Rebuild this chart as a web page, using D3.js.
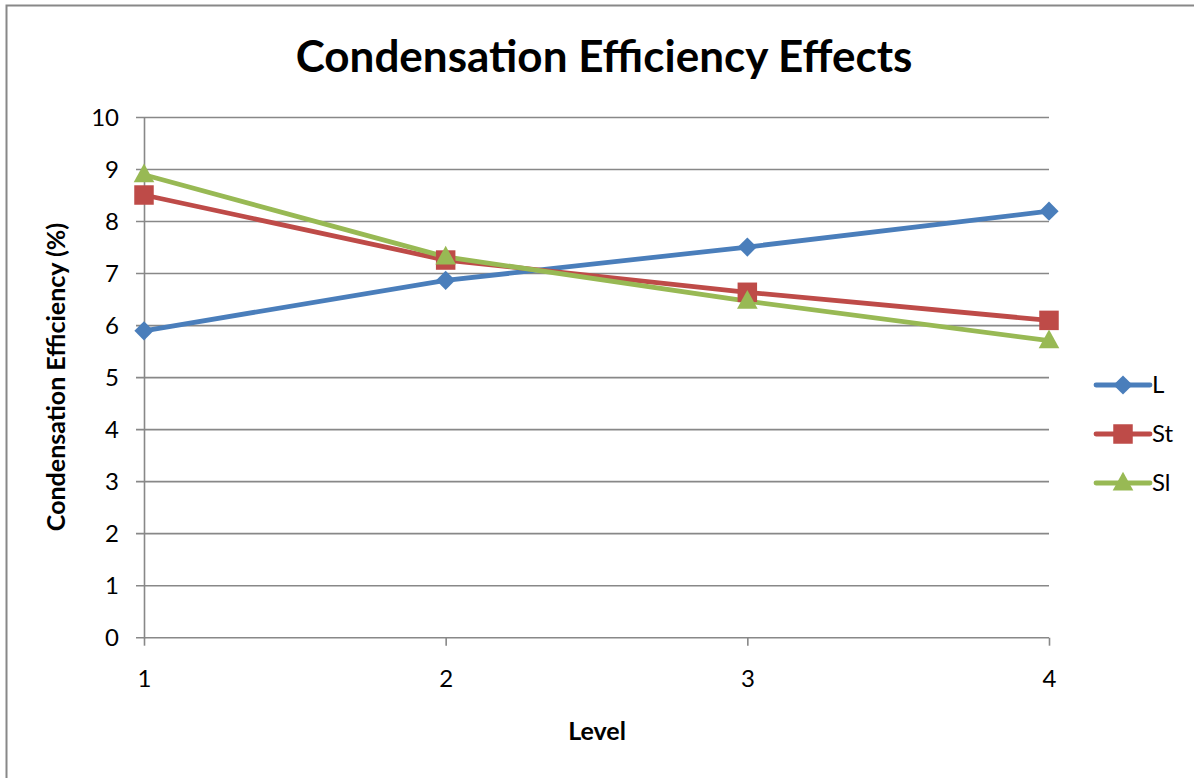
<!DOCTYPE html>
<html>
<head>
<meta charset="utf-8">
<script src="https://cdn.jsdelivr.net/npm/d3@7"></script>
<style>
  html, body { margin: 0; padding: 0; background: #fff; }
  svg { display: block; }
  text { font-family: Lato, "Open Sans", sans-serif; fill: #000; }
</style>
</head>
<body>
<svg id="chart" width="1194" height="778"></svg>
<script>
// Levels along the x axis
const levels = [1, 2, 3, 4];
// Condensation efficiency (%) per series
const seriesL  = [5.9, 6.87, 7.51, 8.2];
const seriesSt = [8.51, 7.26, 6.64, 6.1];
const seriesSl = [8.9, 7.32, 6.47, 5.71];
const seriesNames = ["L", "St", "Sl"];
const yTicks = [0, 1, 2, 3, 4, 5, 6, 7, 8, 9, 10];

const colors = { L: "#4a7ebb", St: "#be4b48", Sl: "#98b954" };

// square diamond (rotated square) marker
const squareDiamond = {
  draw(context, size) {
    const r = Math.sqrt(size / 2);
    context.moveTo(0, -r);
    context.lineTo(r, 0);
    context.lineTo(0, r);
    context.lineTo(-r, 0);
    context.closePath();
  }
};
// wide triangle marker
const wideTriangle = {
  draw(context, size) {
    const h = Math.sqrt(size * 0.95);
    const w = h * 1.1;
    context.moveTo(0, -h * 0.6);
    context.lineTo(w / 2, h * 0.4);
    context.lineTo(-w / 2, h * 0.4);
    context.closePath();
  }
};
const symbols = { L: squareDiamond, St: d3.symbolSquare, Sl: wideTriangle };
const symSize = { L: 185, St: 380, Sl: 370 };

const series = [
  { name: "L", values: seriesL },
  { name: "St", values: seriesSt },
  { name: "Sl", values: seriesSl }
];

const svg = d3.select("#chart");

// outer chart frame
svg.append("rect")
  .attr("x", 6.5).attr("y", 5.5)
  .attr("width", 1200).attr("height", 800)
  .attr("fill", "none").attr("stroke", "#888").attr("stroke-width", 2);

const x = d3.scaleLinear().domain([1, 4]).range([144, 1049]);
const y = d3.scaleLinear().domain([0, 10]).range([637.7, 117.5]);

// horizontal gridlines
svg.append("g")
  .selectAll("line")
  .data(yTicks)
  .join("line")
  .attr("x1", 136).attr("x2", x(4))
  .attr("y1", d => y(d)).attr("y2", d => y(d))
  .attr("stroke", "#888").attr("stroke-width", 1.6);

// y axis
const yAxis = d3.axisLeft(y).tickValues(yTicks).tickSize(0).tickPadding(25);
const gy = svg.append("g").attr("transform", `translate(${x(1)},0)`).call(yAxis);
gy.select(".domain").attr("stroke", "#888").attr("stroke-width", 1.6);
gy.selectAll("text").attr("font-size", 24).style("font-family", "Lato, 'Open Sans', sans-serif");

// x axis
const xAxis = d3.axisBottom(x).tickValues(levels).tickSize(8).tickPadding(24).tickFormat(d3.format("d"));
const gx = svg.append("g").attr("transform", `translate(0,${y(0)})`).call(xAxis);
gx.select(".domain").remove();
gx.selectAll("line").attr("stroke", "#888").attr("stroke-width", 1.6);
gx.selectAll("text").attr("font-size", 24).style("font-family", "Lato, 'Open Sans', sans-serif");

// lines
const line = d3.line().x((d, i) => x(levels[i])).y(d => y(d));
svg.append("g")
  .selectAll("path")
  .data(series)
  .join("path")
  .attr("d", d => line(d.values))
  .attr("fill", "none")
  .attr("stroke", d => colors[d.name])
  .attr("stroke-width", 4.8)
  .attr("stroke-linejoin", "round")
  .attr("stroke-linecap", "round");

// markers
series.forEach(s => {
  svg.append("g")
    .selectAll("path")
    .data(s.values)
    .join("path")
    .attr("d", d3.symbol().type(symbols[s.name]).size(symSize[s.name]))
    .attr("transform", (d, i) => `translate(${x(levels[i])},${y(d)})`)
    .attr("fill", colors[s.name]);
});

// title
svg.append("text")
  .attr("x", 604).attr("y", 72)
  .attr("text-anchor", "middle")
  .attr("font-size", 44).attr("font-weight", "bold")
  .text("Condensation Efficiency Effects");

// axis titles
svg.append("text")
  .attr("transform", "translate(65,377) rotate(-90)")
  .attr("text-anchor", "middle")
  .attr("font-size", 25).attr("font-weight", "bold")
  .text("Condensation Efficiency (%)");

svg.append("text")
  .attr("x", 597).attr("y", 740)
  .attr("text-anchor", "middle")
  .attr("font-size", 25).attr("font-weight", "bold")
  .text("Level");

// legend
const legendY = d3.scalePoint().domain(seriesNames).range([385, 483]);
const legend = svg.append("g")
  .selectAll("g")
  .data(series)
  .join("g")
  .attr("transform", d => `translate(0,${legendY(d.name)})`);
legend.append("line")
  .attr("x1", 1096).attr("x2", 1150)
  .attr("stroke", d => colors[d.name])
  .attr("stroke-width", 4.8)
  .attr("stroke-linecap", "round");
legend.append("path")
  .attr("d", d => d3.symbol().type(symbols[d.name]).size(symSize[d.name])())
  .attr("transform", "translate(1123,0)")
  .attr("fill", d => colors[d.name]);
legend.append("text")
  .attr("x", 1152).attr("dy", "0.35em")
  .attr("font-size", 24)
  .text(d => d.name);
</script>
</body>
</html>
